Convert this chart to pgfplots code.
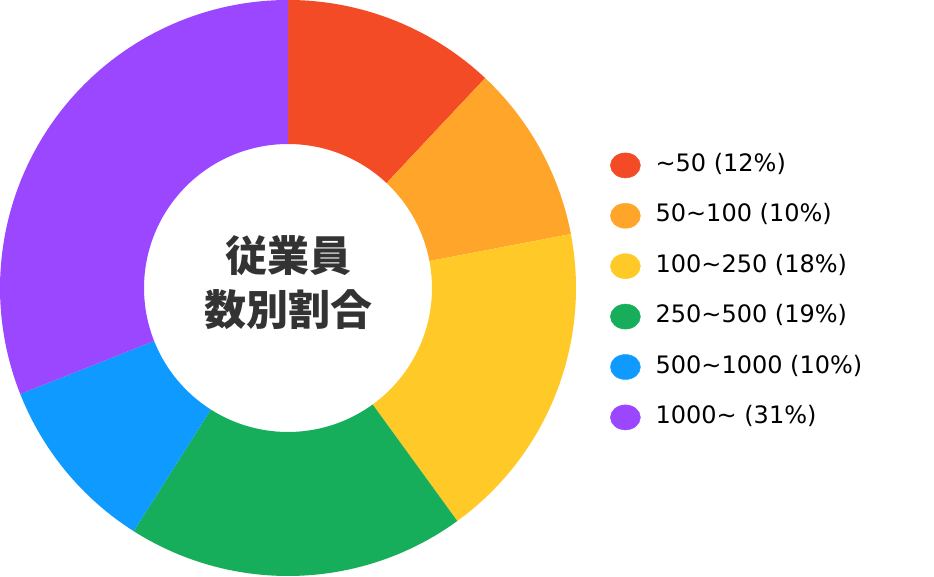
\documentclass[border=0pt]{standalone}
\usepackage{fontspec}
\setmainfont{DejaVu Sans}
\newfontfamily\cjk{Noto Sans CJK JP}
\usepackage{xcolor}
\usepackage{pgfplots}
\pgfplotsset{compat=1.18}

\definecolor{c1}{HTML}{F34B25}
\definecolor{c2}{HTML}{FFA529}
\definecolor{c3}{HTML}{FFCA28}
\definecolor{c4}{HTML}{16AE5A}
\definecolor{c5}{HTML}{0E9AFF}
\definecolor{c6}{HTML}{9A47FF}
\definecolor{centertext}{HTML}{333333}

% donut wedge: colour, cumulative share before, share (percent)
\newcommand\wedgeseg[3]{%
  \fill[#1] (axis cs:288,288) ++({90-3.6*#2}:288pt)
    arc[start angle={90-3.6*#2}, end angle={90-3.6*(#2+#3)}, radius=288pt]
    -- ([shift={({90-3.6*(#2+#3)}:144pt)}]axis cs:288,288)
    arc[start angle={90-3.6*(#2+#3)}, end angle={90-3.6*#2}, radius=144pt]
    -- cycle;}
\newcommand\legdot[1]{\addlegendimage{legend image code/.code={%
  \fill[#1] (15pt,0pt) ellipse[x radius=15pt, y radius=12.5pt];}}}

\begin{document}
\begin{tikzpicture}
\begin{axis}[
  scale only axis,
  width=934pt, height=576pt,
  xmin=0, xmax=934, ymin=0, ymax=576,
  hide axis,
  clip=false,
  legend cell align=left,
  legend style={draw=none, fill=none, inner sep=0pt,
    at={(axis cs:610,423.5)}, anchor=north west,
    row sep=25pt,
    nodes={inner sep=0pt, text height=18pt, text depth=6pt,
      font=\fontsize{24}{28}\selectfont},
    /tikz/every odd column/.append style={column sep=15pt}},
]
  \wedgeseg{c1}{0}{12}
  \wedgeseg{c2}{12}{10}
  \wedgeseg{c3}{22}{18}
  \wedgeseg{c4}{40}{19}
  \wedgeseg{c5}{59}{10}
  \wedgeseg{c6}{69}{31}

  \legdot{c1} \addlegendentry{\textasciitilde50 (12\%)}
  \legdot{c2} \addlegendentry{50\textasciitilde100 (10\%)}
  \legdot{c3} \addlegendentry{100\textasciitilde250 (18\%)}
  \legdot{c4} \addlegendentry{250\textasciitilde500 (19\%)}
  \legdot{c5} \addlegendentry{500\textasciitilde1000 (10\%)}
  \legdot{c6} \addlegendentry{1000\textasciitilde{} (31\%)}

  \node[align=center, text=centertext,
    font=\cjk\bfseries\fontsize{42}{54}\selectfont]
    at (axis cs:288,293) {従業員\\数別割合};
\end{axis}
\pgfresetboundingbox
\path (current axis.south west) rectangle (current axis.north east);
\end{tikzpicture}
\end{document}
